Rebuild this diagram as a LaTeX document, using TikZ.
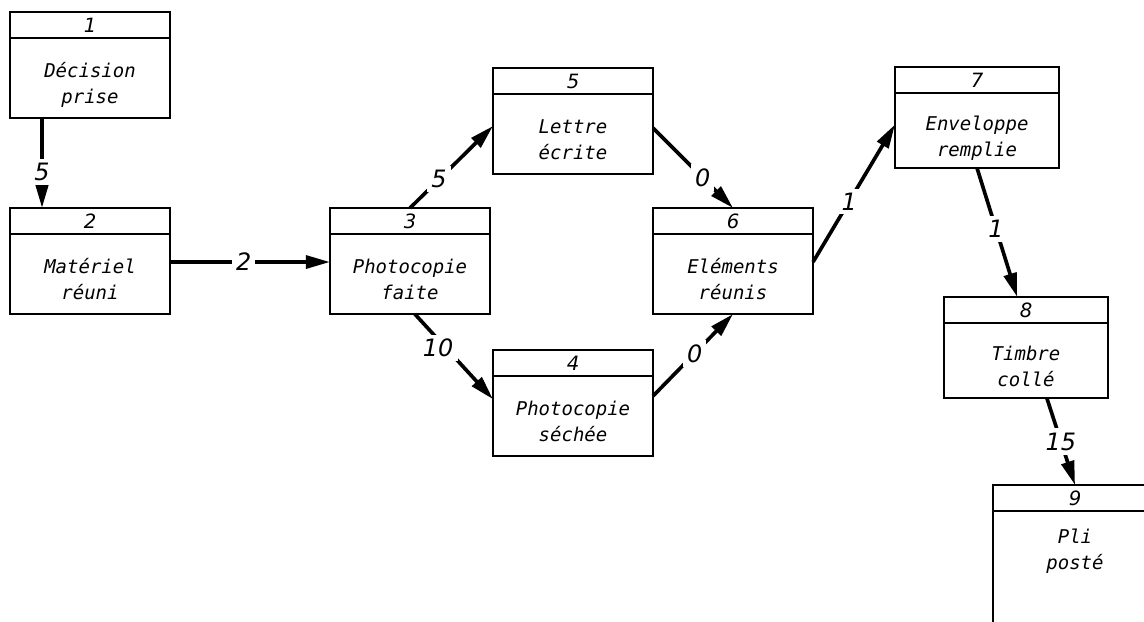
\documentclass[tikz,border=0pt]{standalone}
\usepackage{fontspec}
\setmainfont{DejaVu Sans Mono}
\newfontfamily\chiffres{DejaVu Sans}
\usetikzlibrary{arrows.meta, positioning}
\tikzset{numero/.style = {draw, line width=1.3pt, outer sep=0pt, inner sep=0pt, minimum width=4cm, minimum height=0.65cm, font=\chiffres\itshape\fontsize{14}{14}\selectfont}}
\tikzset{etape/.style = {draw, line width=1.3pt, outer sep=0pt, inner sep=0pt, minimum width=4cm, minimum height=2cm, text height=1.4cm, text depth=0.12cm, align=center, font=\itshape\fontsize{13.5}{18.4}\selectfont}}
\tikzset{fleche/.style = {line width=2.6pt, -{Triangle[length=0.6cm, width=0.32cm]}}}
\tikzset{duree/.style = {fill=white, inner sep=3pt, font=\chiffres\itshape\fontsize{17}{17}\selectfont}}

\begin{document}
\begin{tikzpicture}[x=0.025cm, y=-0.025cm]
    \useasboundingbox (0,0) rectangle (1144,621);
    \node[numero, anchor=north west] (num1) at (10,12) {1};
    \node[etape, below=0pt of num1] (etape1) {Décision\\prise};
    \node[numero, anchor=north west] (num2) at (10,208) {2};
    \node[etape, below=0pt of num2] (etape2) {Matériel\\réuni};
    \node[numero, anchor=north west] (num3) at (330,208) {3};
    \node[etape, below=0pt of num3] (etape3) {Photocopie\\faite};
    \node[numero, anchor=north west] (num4) at (493,350) {4};
    \node[etape, below=0pt of num4] (etape4) {Photocopie\\séchée};
    \node[numero, anchor=north west] (num5) at (493,68) {5};
    \node[etape, below=0pt of num5] (etape5) {Lettre\\écrite};
    \node[numero, anchor=north west] (num6) at (653,208) {6};
    \node[etape, below=0pt of num6] (etape6) {Eléments\\réunis};
    \node[numero, anchor=north west, minimum width=4.1cm] (num7) at (895,67) {7};
    \node[etape, below=0pt of num7, minimum width=4.1cm, minimum height=1.875cm] (etape7) {Enveloppe\\remplie};
    \node[numero, anchor=north west, minimum width=4.1cm] (num8) at (944,297) {8};
    \node[etape, below=0pt of num8, minimum width=4.1cm, minimum height=1.875cm] (etape8) {Timbre\\collé};
    \node[numero, anchor=north west, minimum width=4.1cm] (num9) at (993,485) {9};
    \node[etape, below=0pt of num9, minimum width=4.1cm, minimum height=3cm, text depth=1.5cm] (etape9) {Pli\\posté};

    \draw[fleche] ([xshift=-1.2cm]etape1.south) -- node[duree, pos=0.6] {5} ([xshift=-1.2cm]num2.north);
    \draw[fleche] ([yshift=0.3cm]etape2.east) -- node[duree, pos=0.46] {2} ([yshift=0.3cm]etape3.west);
    \draw[fleche] (num3.north) -- node[duree, pos=0.35] {5} ([yshift=0.2cm]etape5.west);
    \draw[fleche] ([xshift=0.12cm]etape3.south) -- node[duree, pos=0.4, xshift=-0.2cm] {10} ([yshift=0.42cm]etape4.west);
    \draw[fleche] ([yshift=0.15cm]etape5.east) -- node[duree, pos=0.62] {0} (num6.north);
    \draw[fleche] ([yshift=0.5cm]etape4.east) -- node[duree, pos=0.52] {0} (etape6.south);
    \draw[fleche] ([yshift=0.3cm]etape6.east) -- node[duree, pos=0.44] {1} ([yshift=0.15cm]etape7.west);
    \draw[fleche] (etape7.south) -- node[duree, pos=0.47] {1} ([xshift=-0.22cm]num8.north);
    \draw[fleche] ([xshift=0.52cm]etape8.south) -- node[duree, pos=0.5] {15} (num9.north);
\end{tikzpicture}
\end{document}
